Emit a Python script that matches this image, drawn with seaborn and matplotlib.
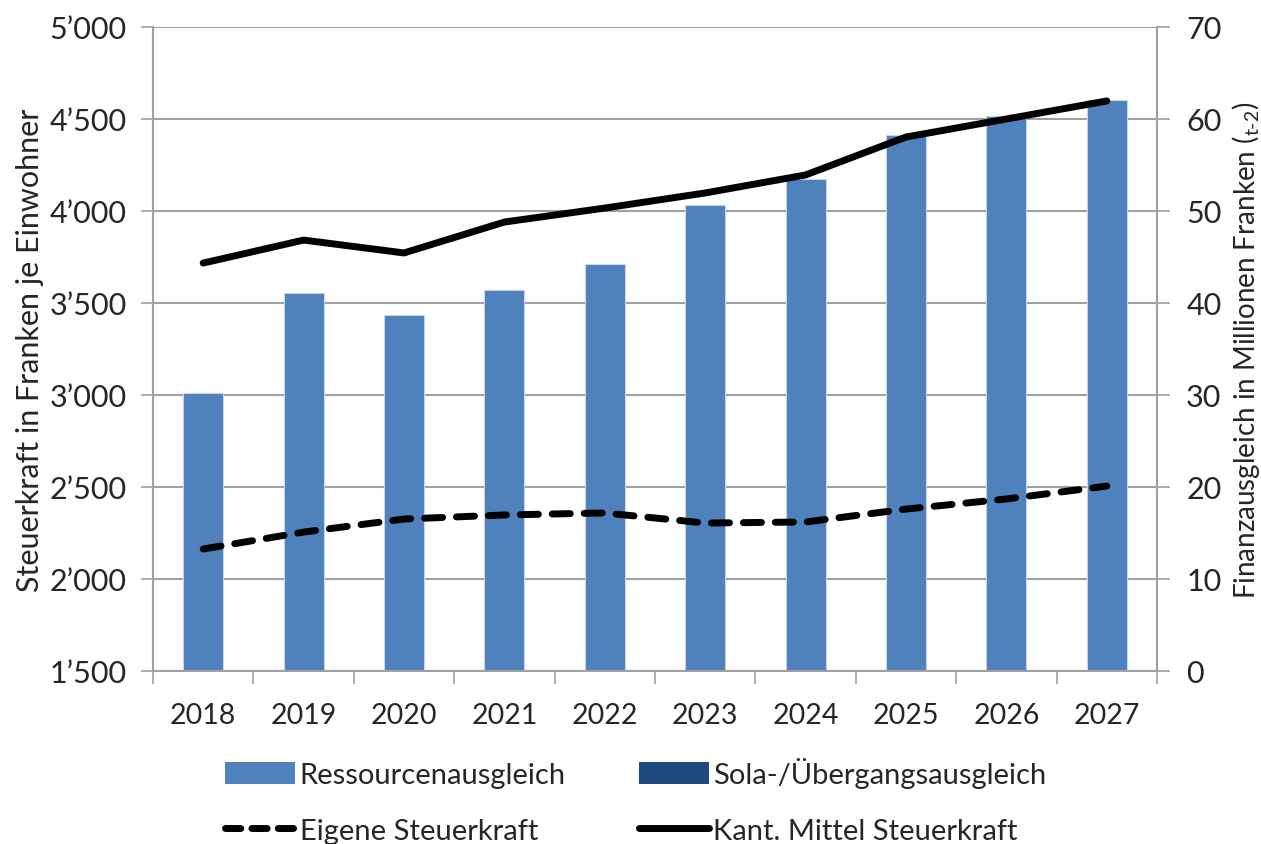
import numpy as np
import pandas as pd
import matplotlib
matplotlib.use("Agg")
import matplotlib.pyplot as plt
import seaborn as sns
from matplotlib.ticker import FixedLocator, FuncFormatter
from matplotlib.patches import Patch
from matplotlib.lines import Line2D

years = ["2018", "2019", "2020", "2021", "2022", "2023", "2024", "2025", "2026", "2027"]
ressourcen = [30.2, 41.1, 38.7, 41.4, 44.2, 50.7, 53.5, 58.3, 60.3, 62.1]
sola = [0, 0, 0, 0, 0, 0, 0, 0, 0, 0]
eigene = [2163, 2255, 2326, 2348, 2359, 2304, 2310, 2380, 2435, 2505]
kant_mittel = [3717, 3842, 3772, 3940, 4016, 4098, 4196, 4402, 4500, 4598]
left_ticks = [1500, 2000, 2500, 3000, 3500, 4000, 4500, 5000]
right_ticks = [0, 10, 20, 30, 40, 50, 60, 70]

sns.set_theme(style="white")
FONT = "Lato"
plt.rcParams["font.family"] = [FONT, "DejaVu Sans"]
plt.rcParams["mathtext.fontset"] = "custom"
plt.rcParams["mathtext.rm"] = FONT
plt.rcParams["mathtext.it"] = FONT

C_RES = "#4F81BD"
C_SOLA = "#1F497D"
GRID = "#A0A0A0"
YTICK_FS = 22
XTICK_FS = 20.5
LLAB_FS = 22
RLAB_FS = 20
LEG_FS = 21
LW = 5

fig = plt.figure(figsize=(12.61, 8.45), dpi=100)
ax = fig.add_axes([153 / 1261, 1 - 672 / 845, (1157 - 153) / 1261, (672 - 28) / 845])

df = pd.DataFrame({"Jahr": years, "Ressourcen": ressourcen, "Sola": sola})
sns.barplot(data=df, x="Jahr", y="Ressourcen", ax=ax, color=C_RES, width=0.4,
            edgecolor="#C5D6EA", linewidth=0.8, saturation=1, zorder=2)
ax.bar(np.arange(len(years)), sola, bottom=ressourcen, width=0.4, color=C_SOLA,
       linewidth=0, zorder=2)

ax2 = ax.twinx()

ax.set_ylim(0, 70)
ax.set_xlim(-0.5, len(years) - 0.5)
ax.yaxis.tick_right()
ax.yaxis.set_label_position("right")
ax.set_yticks(right_ticks)
ax.set_yticklabels([str(t) for t in right_ticks], fontsize=YTICK_FS)
ax.set_ylabel(r"Finanzausgleich in Millionen Franken ($_{\mathregular{t\text{-}2}}$)", fontsize=RLAB_FS, labelpad=6)
ax.set_xlabel("")
ax.set_xticks(np.arange(len(years)))
ax.set_xticklabels(years, fontsize=XTICK_FS)
ax.xaxis.set_minor_locator(FixedLocator(np.arange(len(years) + 1) - 0.5))
ax.tick_params(axis="x", which="major", length=0, pad=22)
ax.tick_params(axis="x", which="minor", length=9, width=1.2, color=GRID, direction="out", bottom=True)
ax.tick_params(axis="y", length=9, width=1.2, color=GRID, direction="out", right=True, left=False,
               labelright=True, labelleft=False, pad=12)
ax.grid(axis="y", color=GRID, linewidth=1.5, zorder=0)
ax.set_axisbelow(True)
for s in ["top", "left"]:
    ax.spines[s].set_visible(False)
for s in ["right", "bottom"]:
    ax.spines[s].set_color(GRID)
    ax.spines[s].set_linewidth(1.5)

ax2.yaxis.tick_left()
ax2.yaxis.set_label_position("left")
x = np.arange(len(years))
sns.lineplot(x=x, y=kant_mittel, ax=ax2, color="black", linewidth=LW,
             solid_capstyle="round", solid_joinstyle="round")
sns.lineplot(x=x, y=eigene, ax=ax2, color="black", linewidth=LW)
ax2.lines[-1].set_dashes((2.6, 2.0))
ax2.lines[-1].set_dash_capstyle("round")
ax2.set_ylim(1500, 5000)
ax2.set_xlim(-0.5, len(years) - 0.5)
ax2.set_yticks(left_ticks)
ax2.yaxis.set_major_formatter(FuncFormatter(lambda v, p: f"{int(v)//1000}\u2019{int(v)%1000:03d}"))
ax2.tick_params(axis="y", labelsize=YTICK_FS, length=9, width=1.2, color=GRID, direction="out",
                left=True, right=False, labelleft=True, labelright=False, pad=10)
ax2.set_ylabel("Steuerkraft in Franken je Einwohner", fontsize=LLAB_FS, labelpad=4)
for s in ["top", "right", "bottom"]:
    ax2.spines[s].set_visible(False)
ax2.spines["left"].set_color(GRID)
ax2.spines["left"].set_linewidth(1.5)

handles = [
    Patch(facecolor=C_RES, edgecolor="none"),
    Line2D([0], [0], color="black", linewidth=LW, dashes=(2.2, 1.6), dash_capstyle="round"),
    Patch(facecolor=C_SOLA, edgecolor="none"),
    Line2D([0], [0], color="black", linewidth=LW, solid_capstyle="round"),
]
labels = ["Ressourcenausgleich", "Eigene Steuerkraft", "Sola-/Übergangsausgleich", "Kant. Mittel Steuerkraft"]
fig.legend(handles, labels, loc="lower left", bbox_to_anchor=(205 / 1261, -0.024), ncol=2,
           frameon=False, fontsize=LEG_FS, handlelength=2.4, handleheight=0.8,
           handletextpad=0.15, columnspacing=2.5, labelspacing=1.0, borderpad=0.2)

fig.savefig("out.png", dpi=100)
